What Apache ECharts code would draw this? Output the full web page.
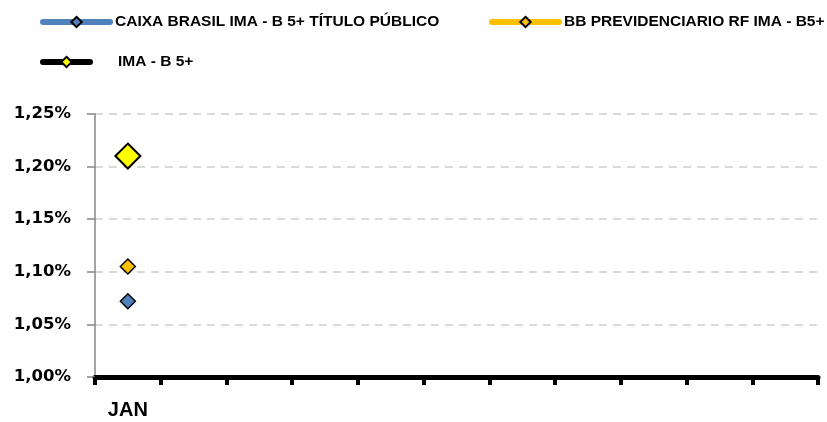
<!DOCTYPE html>
<html>
<head>
<meta charset="utf-8">
<script src="https://cdn.jsdelivr.net/npm/echarts@6/dist/echarts.min.js"></script>
<style>
html,body{margin:0;padding:0;background:#fff;}
#chart{width:827px;height:422px;}
</style>
</head>
<body>
<div id="chart"></div>
<script>
// Categories (months) and series values (%)
var months = ['JAN','FEV','MAR','ABR','MAI','JUN','JUL','AGO','SET','OUT','NOV'];
var caixaValues = [1.072, null, null, null, null, null, null, null, null, null, null];
var bbValues    = [1.105, null, null, null, null, null, null, null, null, null, null];
var imaValues   = [1.210, null, null, null, null, null, null, null, null, null, null];
var seriesNames = ['CAIXA BRASIL IMA - B 5+ TÍTULO PÚBLICO', 'BB PREVIDENCIARIO RF IMA - B5+', 'IMA - B 5+'];
var yMin = 1.00, yMax = 1.25, yStep = 0.05;

function hasData(i){
  return caixaValues[i] != null || bbValues[i] != null || imaValues[i] != null;
}

var chart = echarts.init(document.getElementById('chart'), null, {renderer:'canvas'});
var legendText = {fontFamily:'Liberation Sans', fontWeight:'bold', fontSize:15.5, color:'#000'};
var legendLine = {width:6, cap:'round'};
var option = {
  animation:false,
  backgroundColor:'#fff',
  legend:[
    {data:[seriesNames[0]], left:40, top:14, padding:0, itemWidth:67, itemHeight:13, lineStyle:legendLine, textStyle:legendText, selectedMode:false},
    {data:[seriesNames[1]], left:489, top:14, padding:0, itemWidth:67, itemHeight:13, lineStyle:legendLine, textStyle:legendText, selectedMode:false},
    {data:[seriesNames[2]], left:40, top:54, padding:0, itemWidth:47, itemHeight:13, lineStyle:legendLine, textStyle:Object.assign({padding:[0,0,0,23]}, legendText), selectedMode:false}
  ],
  grid:{left:95, right:9, top:114, bottom:45, containLabel:false},
  xAxis:{
    type:'category',
    data:months,
    boundaryGap:true,
    axisLine:{lineStyle:{color:'#000', width:5}},
    axisTick:{show:true, length:8, lineStyle:{color:'#000', width:4}, alignWithLabel:false},
    axisLabel:{
      margin:23,
      fontFamily:'Liberation Sans', fontWeight:'bold', fontSize:20, color:'#000',
      interval:0,
      formatter:function(v, i){ return hasData(i) ? v : ''; }
    },
    splitLine:{show:false}
  },
  yAxis:{
    type:'value',
    min:yMin, max:yMax, interval:yStep,
    axisLine:{show:true, lineStyle:{color:'#868686', width:1.5}},
    axisTick:{show:true, length:8, lineStyle:{color:'#868686', width:1.5}},
    axisLabel:{
      margin:24,
      fontFamily:'DejaVu Sans', fontWeight:'bold', fontSize:16.5, color:'#000',
      formatter:function(v){ return v.toFixed(2).replace('.', ',') + '%'; }
    },
    splitLine:{show:true, lineStyle:{color:'#d9d9d9', width:2, type:[8,6]}}
  },
  series:[
    {
      name:seriesNames[0], type:'line', data:caixaValues,
      symbol:'diamond', symbolSize:15,
      itemStyle:{color:'#4F81BD', borderColor:'#000', borderWidth:1.5},
      lineStyle:{color:'#4F81BD', width:6, cap:'round'},
      z:3
    },
    {
      name:seriesNames[1], type:'line', data:bbValues,
      symbol:'diamond', symbolSize:15,
      itemStyle:{color:'#FFC000', borderColor:'#000', borderWidth:1.5},
      lineStyle:{color:'#FFC000', width:6, cap:'round'},
      z:3
    },
    {
      name:seriesNames[2], type:'line', data:imaValues,
      symbol:'diamond', symbolSize:25,
      itemStyle:{color:'#FFFF00', borderColor:'#000', borderWidth:2},
      lineStyle:{color:'#000', width:6, cap:'round'},
      z:3
    }
  ]
};
chart.setOption(option);
</script>
</body>
</html>
